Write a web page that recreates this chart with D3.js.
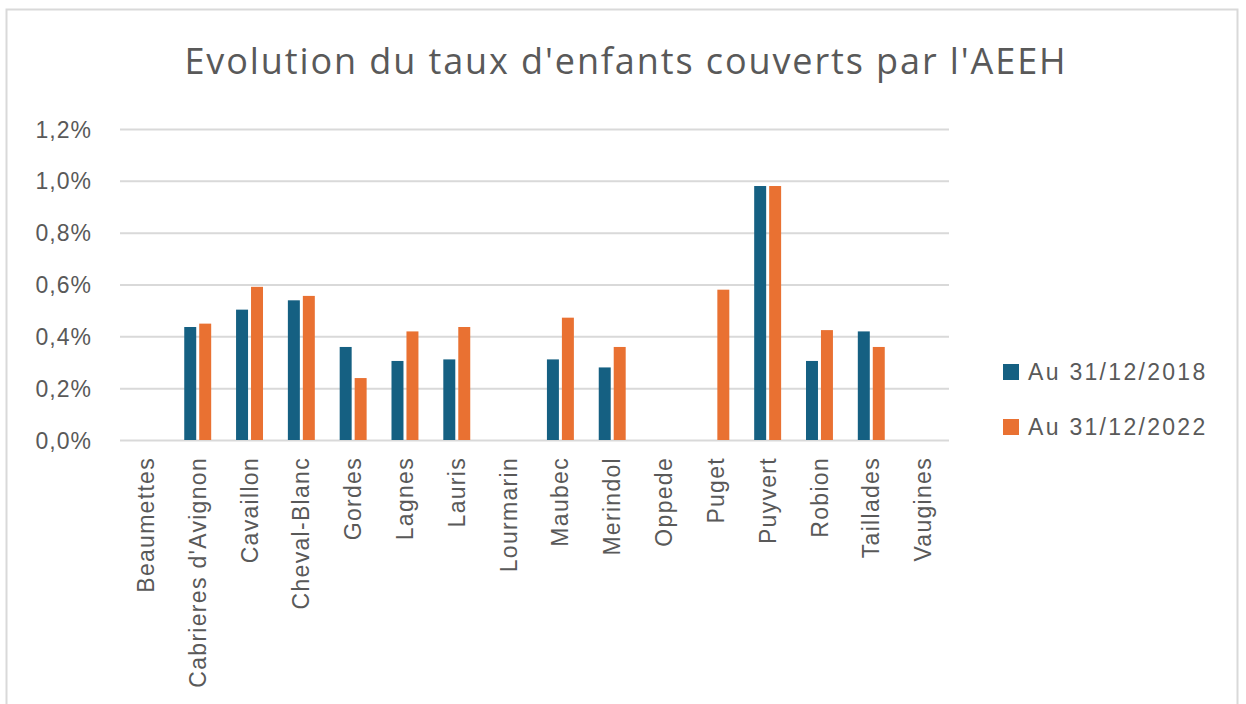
<!DOCTYPE html>
<html>
<head>
<meta charset="utf-8">
<script src="https://cdn.jsdelivr.net/npm/d3@7"></script>
<style>
  html, body { margin: 0; padding: 0; background: #fff; }
  svg { display: block; }
</style>
</head>
<body>
<svg id="chart" width="1246" height="704"></svg>
<script>
const title = "Evolution du taux d'enfants couverts par l'AEEH";
const categories = ["Beaumettes","Cabrieres d'Avignon","Cavaillon","Cheval-Blanc","Gordes","Lagnes","Lauris","Lourmarin","Maubec","Merindol","Oppede","Puget","Puyvert","Robion","Taillades","Vaugines"];
const seriesNames = ["Au 31/12/2018","Au 31/12/2022"];
const values2018 = [null,0.436,0.503,0.539,0.359,0.305,0.311,null,0.311,0.280,null,null,0.980,0.305,0.419,null];
const values2022 = [null,0.449,0.591,0.556,0.239,0.419,0.436,null,0.472,0.359,null,0.580,0.980,0.424,0.359,null];
const yTicks = [0,0.2,0.4,0.6,0.8,1.0,1.2];
const colors = ["#156082","#E97132"];

(function(){
const svg = d3.select("#chart");
const textColor = "#595959";
const gridColor = "#d9d9d9";
const labelFont = "'Liberation Sans', Arial, sans-serif";

svg.append("rect").attr("x",6.5).attr("y",9.5).attr("width",1231).attr("height",720)
  .attr("fill","#fff").attr("stroke",gridColor).attr("stroke-width",2);

const pLeft = 120, pRight = 949, pTop = 129, pBottom = 440;

const x0 = d3.scaleBand().domain(categories).range([pLeft,pRight]).paddingInner(0.48).paddingOuter(0.24);
const x1 = d3.scaleBand().domain(seriesNames).range([0,x0.bandwidth()]).paddingInner(0.2);
const y = d3.scaleLinear().domain([0,1.2]).range([pBottom,pTop]);

svg.append("text").attr("x",626).attr("y",74).attr("text-anchor","middle")
  .attr("font-family","'Open Sans', Lato, sans-serif").attr("font-size",36)
  .attr("letter-spacing",1.9)
  .attr("fill",textColor).text(title);

const yAxis = d3.axisLeft(y).tickValues(yTicks).tickSize(-(pRight-pLeft)).tickPadding(28)
  .tickFormat(d => d3.format(".1f")(d).replace(".",",") + "%");
const gy = svg.append("g").attr("transform",`translate(${pLeft},0)`).call(yAxis);
gy.select(".domain").remove();
gy.selectAll(".tick line").attr("stroke",gridColor).attr("stroke-width",2);
gy.selectAll(".tick text").attr("fill",textColor).attr("font-family",labelFont)
  .attr("font-size",23).attr("letter-spacing",1).attr("dy","0.35em");

const data = categories.map((c,i) => ({cat:c, vals:[values2018[i], values2022[i]]}));
const groups = svg.append("g").selectAll("g").data(data).join("g")
  .attr("transform", d => `translate(${x0(d.cat)},0)`);
groups.selectAll("rect")
  .data(d => d.vals.map((v,j) => ({s:seriesNames[j], v, j})).filter(e => e.v !== null))
  .join("rect")
  .attr("x", e => x1(e.s))
  .attr("width", x1.bandwidth())
  .attr("y", e => y(e.v))
  .attr("height", e => y(0) - y(e.v))
  .attr("fill", e => colors[e.j]);

const xAxis = d3.axisBottom(x0).tickSize(0).tickPadding(0);
const gx = svg.append("g").attr("transform",`translate(0,${pBottom})`).call(xAxis);
gx.select(".domain").remove();
gx.selectAll(".tick text")
  .attr("fill",textColor).attr("font-family",labelFont)
  .attr("font-size",23).attr("letter-spacing",1.3)
  .attr("text-anchor","end")
  .attr("transform","rotate(-90)")
  .attr("x",-17).attr("y",0).attr("dy","0.35em");

const legend = svg.append("g").attr("transform","translate(1003,364)");
const li = legend.selectAll("g").data(seriesNames).join("g")
  .attr("transform",(d,i)=>`translate(0,${i*55})`);
li.append("rect").attr("width",16).attr("height",16).attr("fill",(d,i)=>colors[i]);
li.append("text").attr("x",25).attr("y",8).attr("dy","0.35em")
  .attr("fill",textColor).attr("font-family",labelFont)
  .attr("font-size",23).attr("letter-spacing",2.3).text(d=>d);
})();
</script>
</body>
</html>
